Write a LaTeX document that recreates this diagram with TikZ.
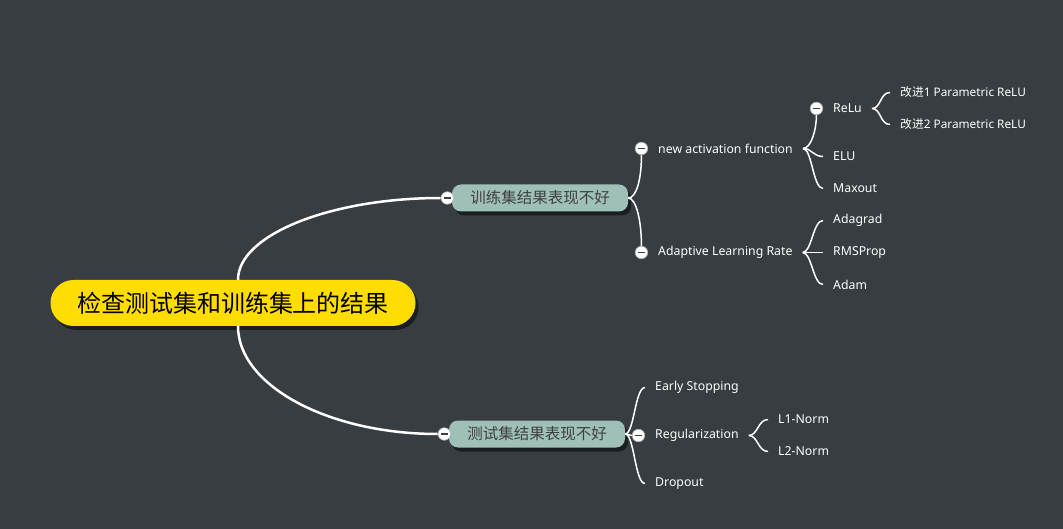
\documentclass[tikz,border=0pt]{standalone}
\usepackage{fontspec}
\setmainfont{Noto Sans}
\newfontfamily\cjk{Noto Sans CJK SC}
\definecolor{mapbg}{RGB}{55,61,65}
\definecolor{mapyellow}{RGB}{255,221,0}
\definecolor{mapsage}{RGB}{158,192,184}
\definecolor{mapgrey}{RGB}{64,64,64}
\usetikzlibrary{positioning}
\usetikzlibrary{shadows}
\tikzset{
  mapshadow/.style={drop shadow={shadow xshift=3pt, shadow yshift=-4pt, fill=black, opacity=0.5}},
  rootnode/.style={fill=mapyellow, text=black, rounded corners=23pt, minimum width=365pt, minimum height=46pt, font=\fontsize{24}{24}\selectfont, mapshadow},
  topicnode/.style={fill=mapsage, text=mapgrey, rounded corners=9pt, minimum width=176pt, minimum height=27pt, inner sep=0pt, font=\fontsize{15.5}{16}\selectfont, mapshadow},
  leafnode/.style={text=white, anchor=west, inner xsep=10pt, inner ysep=2pt, yshift=-1.5pt, font=\fontsize{12.3}{13}\selectfont},
  foldnode/.style={circle, fill=white, draw=gray!60, line width=0.6pt, minimum size=12.5pt, inner sep=0pt,
    path picture={\draw [mapgrey, line width=1.6pt] ([xshift=-3.5pt]path picture bounding box.center) -- ([xshift=3.5pt]path picture bounding box.center);}},
  trunk/.style={draw=white, line width=2.5pt},
  twig/.style={draw=white, line width=1.5pt},
}

\begin{document}
\begin{tikzpicture}[x=1pt, y=-1pt]
  \fill [mapbg] (0,0) rectangle (1063,529);

  \node [rootnode] (root) at (233, 303) {\cjk 检查测试集和训练集上的结果};
  \node [topicnode] (train) at (540, 198) {\cjk 训练集结果表现不好};
  \node [topicnode] (test) at (537, 434) {\cjk 测试集结果表现不好};

  \begin{scope}[every node/.style={leafnode}]
    \node (naf) at (648, 147) {new activation function};
    \node (alr) at (648, 251) {Adaptive Learning Rate};
    \node (relu) at (823, 107) {ReLu};
    \node (elu) at (823, 155) {ELU};
    \node (maxout) at (823, 187) {Maxout};
    \node [font=\fontsize{11.8}{12}\selectfont] (prelua) at (890, 91) {{\cjk 改进}1 Parametric ReLU};
    \node [font=\fontsize{11.8}{12}\selectfont] (prelub) at (890, 123) {{\cjk 改进}2 Parametric ReLU};
    \node (adagrad) at (823, 219) {Adagrad};
    \node (rmsprop) at (823, 251) {RMSProp};
    \node (adam) at (823, 283) {Adam};
    \node (early) at (645, 386) {Early Stopping};
    \node (reg) at (645, 434) {Regularization};
    \node (dropout) at (645, 482) {Dropout};
    \node (lone) at (768, 418) {L1-Norm};
    \node (ltwo) at (768, 450) {L2-Norm};
  \end{scope}

  \node [foldnode, left=-2pt of train] (trainfold) {};
  \node [foldnode, left=-2pt of test] (testfold) {};
  \node [foldnode, left=0pt of naf] (naffold) {};
  \node [foldnode, left=0pt of alr] (alrfold) {};
  \node [foldnode, left=0pt of relu] (relufold) {};
  \node [foldnode, left=0pt of reg] (regfold) {};

  % trunk
  \draw [trunk] ([xshift=5pt]root.north) .. controls +(0,-45) and +(-110,0) .. (trainfold.west);
  \draw [trunk] ([xshift=5pt]root.south) .. controls +(0,59) and +(-110,0) .. (testfold.west);

  \draw [twig] (train.east) .. controls +(8,0) and +(0,25) .. (naffold.south);
  \draw [twig] (train.east) .. controls +(8,0) and +(0,-25) .. (alrfold.north);
  \draw [twig] (naf.east) .. controls +(8,0) and +(0,15) .. (relufold.south);
  \foreach \leaf in {elu, maxout}
    \draw [twig] (naf.east) .. controls +(9,0) and +(-10,0) .. (\leaf.west);
  \foreach \leaf in {prelua, prelub}
    \draw [twig] (relu.east) .. controls +(9,0) and +(-10,0) .. (\leaf.west);
  \foreach \leaf in {adagrad, rmsprop, adam}
    \draw [twig] (alr.east) .. controls +(9,0) and +(-10,0) .. (\leaf.west);
  \foreach \leaf in {early, dropout}
    \draw [twig] (test.east) .. controls +(9,0) and +(-10,0) .. (\leaf.west);
  \draw [twig] (test.east) -- (regfold.west);
  \foreach \leaf in {lone, ltwo}
    \draw [twig] (reg.east) .. controls +(9,0) and +(-10,0) .. (\leaf.west);
\end{tikzpicture}
\end{document}
